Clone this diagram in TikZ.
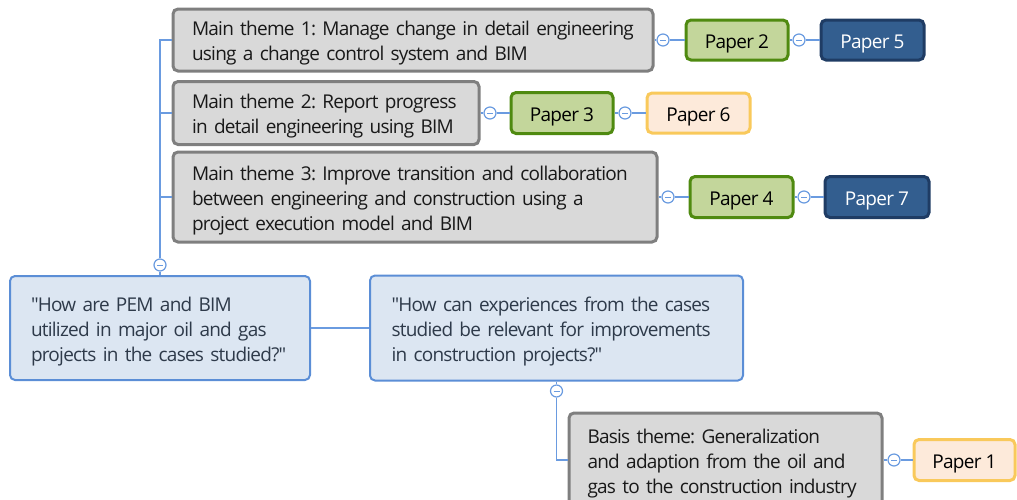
\documentclass[tikz,border=0pt]{standalone}
\usepackage{fontspec}
\setmainfont{Open Sans}[Ligatures=TeXOff, LetterSpace=-4]
\frenchspacing
\definecolor{grayfill}{HTML}{D9D9D9}
\definecolor{graydraw}{HTML}{7F7F7F}
\definecolor{greenfill}{HTML}{C3D69B}
\definecolor{greendraw}{HTML}{4F8A10}
\definecolor{navyfill}{HTML}{335E8F}
\definecolor{navydraw}{HTML}{1F3C64}
\definecolor{orangefill}{HTML}{FDEADA}
\definecolor{orangedraw}{HTML}{F9C95B}
\definecolor{bluefill}{HTML}{DCE6F2}
\definecolor{bluedraw}{HTML}{5B8ED6}
\definecolor{linec}{HTML}{6A9BE0}
\definecolor{qtext}{HTML}{2E3A4A}
\hfuzz=80pt
\newcommand{\txt}[1]{\raisebox{-3pt}[\height][\depth]{\begin{tabular}{@{}l@{}}#1\end{tabular}}}
\begin{document}
\begin{tikzpicture}[x=1pt,y=-1pt,
  box/.style={rectangle, rounded corners=5pt, line width=3pt, inner xsep=0pt, inner ysep=0pt, align=left,
    font=\fontsize{19}{25}\selectfont},
  theme/.style={box, fill=grayfill, draw=graydraw, text=black!90},
  question/.style={box, fill=bluefill, draw=bluedraw, line width=2pt, text=qtext},
  paper/.style={rectangle, rounded corners=5pt, line width=3pt, inner sep=0pt,
    font=\fontsize{19}{25}\selectfont},
  greenp/.style={paper, fill=greenfill, draw=greendraw, text=black},
  navyp/.style={paper, fill=navyfill, draw=navydraw, text=white},
  orangep/.style={paper, fill=orangefill, draw=orangedraw, text=black},
  conn/.style={draw=linec, line width=1.5pt},
  tog/.style={circle, draw=linec, fill=white, line width=1.2pt, minimum size=12pt, inner sep=0pt,
    path picture={\draw[linec, line width=1pt] ([xshift=-3pt]path picture bounding box.center) -- ([xshift=3pt]path picture bounding box.center);}}
]
\useasboundingbox (0,0) rectangle (1017,499);

% theme boxes
\node[theme, minimum width=480pt, minimum height=62pt, text width=442pt] (t1) at (413,40)
  {\txt{Main theme 1: Manage change in detail engineering\\using a change control system and BIM}};
\node[theme, minimum width=306pt, minimum height=63pt, text width=268pt] (t2) at (326,113)
  {\txt{Main theme 2: Report progress\\in detail engineering using BIM}};
\node[theme, minimum width=484pt, minimum height=90pt, text width=446pt] (t3) at (415,197)
  {\txt{Main theme 3: Improve transition and collaboration\\between engineering and construction using a\\project execution model and BIM}};

% papers
\node[greenp, minimum width=102pt, minimum height=40pt] (p2) at (737,40) {\txt{Paper 2}};
\node[navyp, minimum width=103pt, minimum height=40pt] (p5) at (872.5,40) {\txt{Paper 5}};
\node[greenp, minimum width=102pt, minimum height=41pt] (p3) at (562,113) {\txt{Paper 3}};
\node[orangep, minimum width=103pt, minimum height=40pt] (p6) at (698.5,113) {\txt{Paper 6}};
\node[greenp, minimum width=103pt, minimum height=41pt] (p4) at (741.5,197) {\txt{Paper 4}};
\node[navyp, minimum width=104pt, minimum height=41pt] (p7) at (877,197) {\txt{Paper 7}};

% questions
\node[question, minimum width=300pt, minimum height=104pt, text width=258pt] (q1) at (160,328)
  {\txt{"How are PEM and BIM\\utilized in major oil and gas\\projects in the cases studied?"}};
\node[question, minimum width=373pt, minimum height=105pt, text width=330pt] (q2) at (556.5,328)
  {\txt{"How can experiences from the cases\\studied be relevant for improvements\\in construction projects?"}};

% basis
\node[theme, minimum width=313pt, minimum height=94pt, text width=276pt] (b) at (725.5,460)
  {\txt{Basis theme: Generalization\\and adaption from the oil and\\gas to the construction industry}};
\node[orangep, minimum width=101pt, minimum height=41pt] (p1) at (964.5,460) {\txt{Paper 1}};

% toggles
\node[tog] (c0) at (160,265) {};
\node[tog] (c1) at (663,40) {};
\node[tog] (c2) at (799,40) {};
\node[tog] (c3) at (490,113) {};
\node[tog] (c4) at (625,113) {};
\node[tog] (c5) at (668,197) {};
\node[tog] (c6) at (804,197) {};
\node[tog] (c8) at (556.5,391) {};
\node[tog] (c9) at (894,460) {};

% connectors
\draw[conn] (c0.north) |- (t1.west);
\draw[conn] (c0.north) |- (t2.west);
\draw[conn] (c0.north) |- (t3.west);
\draw[conn] (c0.south) -- (q1.north);
\draw[conn] (t1.east) -- (c1.west);
\draw[conn] (c1.east) -- (p2.west);
\draw[conn] (p2.east) -- (c2.west);
\draw[conn] (c2.east) -- (p5.west);
\draw[conn] (t2.east) -- (c3.west);
\draw[conn] (c3.east) -- (p3.west);
\draw[conn] (p3.east) -- (c4.west);
\draw[conn] (c4.east) -- (p6.west);
\draw[conn] (t3.east) -- (c5.west);
\draw[conn] (c5.east) -- (p4.west);
\draw[conn] (p4.east) -- (c6.west);
\draw[conn] (c6.east) -- (p7.west);
\draw[conn] (q1.east) -- (q2.west);
\draw[conn] (q2.south) -- (c8.north);
\draw[conn] (c8.south) |- (b.west);
\draw[conn] (b.east) -- (c9.west);
\draw[conn] (c9.east) -- (p1.west);
\end{tikzpicture}
\end{document}
